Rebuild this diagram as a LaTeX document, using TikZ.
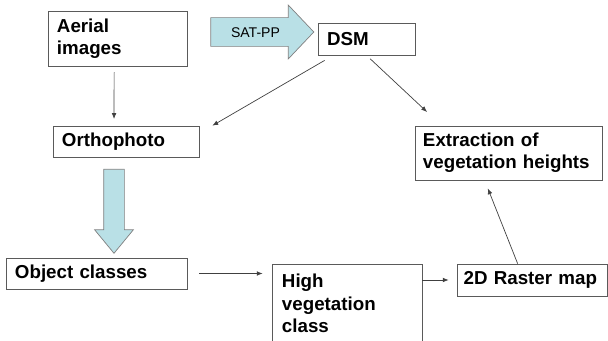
\documentclass[tikz,border=0pt]{standalone}
\usepackage{fontspec}
\setmainfont{Liberation Sans}
\usetikzlibrary{shapes.arrows,arrows.meta}
\definecolor{arrowblue}{RGB}{185,224,230}
\definecolor{boxgray}{RGB}{90,90,90}
\begin{document}
\begin{tikzpicture}[
    x=0.03cm, y=-0.03cm,
    box/.style={rectangle, draw=boxgray, line width=0.6pt, inner xsep=0.27cm, inner ysep=0pt,
        align=left, font=\fontsize{16}{19}\selectfont\bfseries},
    big_arrow/.style={single arrow, draw=gray, line width=0.6pt, fill=arrowblue,
        single arrow head indent=0pt, inner xsep=0pt},
    link/.style={draw=black!75, line width=0.6pt, -{Latex[length=5pt,width=4pt]}}
]
\useasboundingbox (0,0) rectangle (608,341);
\clip (0,0) rectangle (608,341);

% 方框
\node[box, text width=3.63cm, minimum height=1.65cm] (aerial) at (117.5,38.5) {Aerial\\images};
\node[box, text width=2.37cm, minimum height=0.96cm] (dsm) at (366.5,39) {DSM};
\node[box, text width=3.84cm, minimum height=0.93cm] (ortho) at (126,141.5) {Orthophoto};
\node[box, text width=5.13cm, minimum height=1.62cm, inner xsep=0.24cm] (extraction) at (508.5,153) {Extraction of\\vegetation heights};
\node[box, text width=4.89cm, minimum height=0.93cm] (object) at (96.5,273.5) {Object classes};
\node[box, text width=3.90cm, inner xsep=0.3cm, inner ysep=0.3cm, anchor=north] (high) at (347,264) {High\\vegetation\\class};
\node[box, text width=4.1cm, minimum height=0.96cm, inner xsep=0.2cm] (raster) at (532,280) {2D Raster map};

% 粗箭头
\node[big_arrow, minimum height=3.09cm, single arrow head extend=0.375cm, single arrow tip angle=93,
    inner ysep=0.27cm, text height=8.6pt, text depth=0pt, font=\fontsize{12}{14}\selectfont] (satpp) at (255.5,32) {SAT-PP};
\node[big_arrow, rotate=-90, minimum height=2.52cm, single arrow head extend=0.27cm, single arrow tip angle=79,
    inner ysep=0.3cm] (classify) at (114,205) {};

% 细箭头
\draw[link, shorten <=0.18cm, shorten >=0.2cm] ([xshift=-0.1cm]aerial.south) -- ([xshift=-0.36cm]ortho.north);
\draw[link, shorten <=0.3cm] ([xshift=0.47cm]dsm.south west) -- ([xshift=0.39cm]ortho.north east);
\draw[link, shorten <=0.15cm, shorten >=0.6cm] (dsm.south) -- ([xshift=0.81cm]extraction.north west);
\draw[link, shorten <=0.36cm, shorten >=0.27cm] (object.east) -- (object.east -| high.west);
\draw[link, shorten >=0.24cm] (raster.west -| high.east) -- (raster.west);
\draw[link, shorten >=0.26cm] ([xshift=1.83cm]raster.north west) -- ([xshift=2.1cm]extraction.south west);

\end{tikzpicture}
\end{document}
